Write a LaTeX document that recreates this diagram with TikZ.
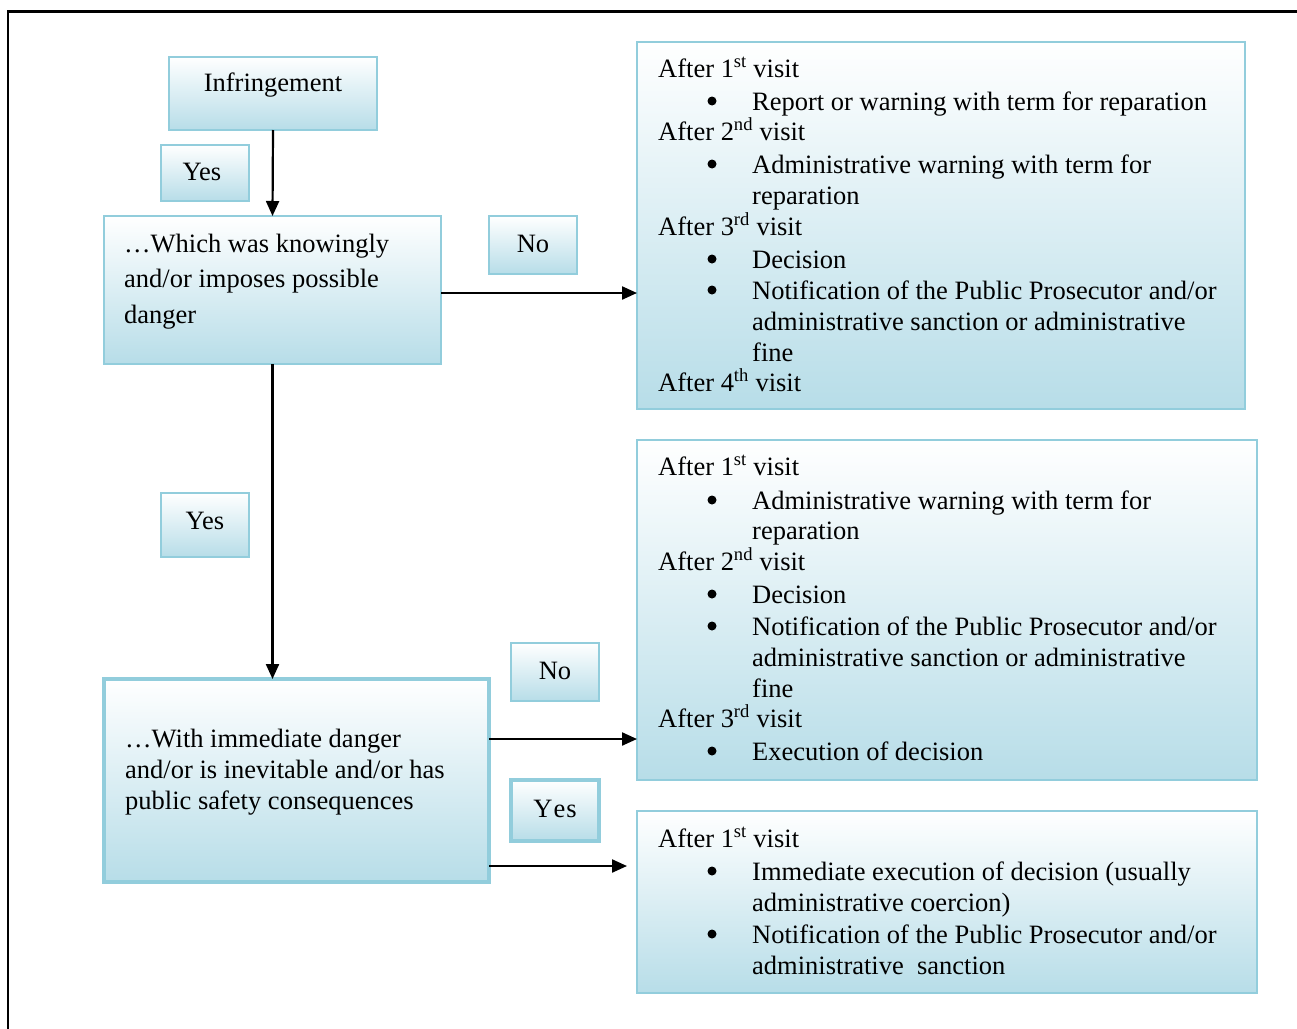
\documentclass[tikz,border=0pt]{standalone}
\usepackage{fontspec}
\setmainfont{Liberation Serif}
\usetikzlibrary{arrows.meta}
\definecolor{boxblue}{RGB}{183,221,232}
\definecolor{edgeblue}{RGB}{146,205,220}
\tikzset{
  box/.style={rectangle, draw=edgeblue, line width=1.8pt, shading=axis,
    top color=white, bottom color=boxblue, inner sep=0pt, outer sep=0pt,
    anchor=north west},
  thickbox/.style={box, line width=3.4pt},
  lbl/.style={font=\fontsize{26.5}{32}\selectfont, inner sep=0pt},
  txt/.style={lbl, anchor=base west},
  dot/.style={circle, fill=black, inner sep=0pt, minimum size=9pt},
  flow/.style={line width=2.2pt, -{Triangle[length=15pt,width=13pt]}},
  frame/.style={line width=2.4pt}
}
\newcommand\boxline[4]{\node[txt] (#1) at (#2,#3) {#4};}
\newcommand\bulletline[3]{\node[dot] (#1b) at (712,#2-9) {};\node[txt] (#1) at (752,#2) {#3};}
\begin{document}
\begin{tikzpicture}[x=1pt,y=-1pt]
\useasboundingbox (0,0) rectangle (1297,1028);
% outer frame (top and left edges)
\coordinate (ftl) at (8,11.5);
\coordinate (ftr) at (1300,11.5);
\coordinate (fbl) at (8,1030);
\draw[frame] (ftr) -- (ftl) -- (fbl);

% decision boxes
\node[box, minimum width=208pt, minimum height=73pt] (inf) at (169,57) {};
\node[lbl] (inft) at (273,85) {Infringement};
\node[box, minimum width=337pt, minimum height=148pt] (which) at (104,216) {};
\boxline{w1}{124}{252}{…Which was knowingly}
\boxline{w2}{124}{287}{and/or imposes possible}
\boxline{w3}{124}{323}{danger}
\node[thickbox, minimum width=385pt, minimum height=203pt] (imm) at (104,679) {};
\boxline{i1}{125}{747}{…With immediate danger}
\boxline{i2}{125}{778}{and/or is inevitable and/or has}
\boxline{i3}{125}{809}{public safety consequences}

% yes / no labels
\node[box, minimum width=88pt, minimum height=56pt] (yes1) at (161,145) {};
\node[lbl] (yes1t) at (202,172) {Yes};
\node[box, minimum width=88pt, minimum height=58pt] (no1) at (489,216) {};
\node[lbl] (no1t) at (533,244) {No};
\node[box, minimum width=88pt, minimum height=64pt] (yes2) at (161,493) {};
\node[lbl] (yes2t) at (205,521) {Yes};
\node[box, minimum width=88pt, minimum height=58pt] (no2) at (511,643) {};
\node[lbl] (no2t) at (555,671) {No};
\node[thickbox, minimum width=88pt, minimum height=61pt] (yes3) at (511,780) {};
\node[lbl] (yes3t) at (555,809) {Y\kern1pt e\kern1pt s};

% outcome box: not knowingly, no danger
\node[box, minimum width=608pt, minimum height=367pt] (out1) at (637,42) {};
\boxline{a1}{658}{77}{After 1\textsuperscript{st} visit}
\bulletline{a2}{110}{Report or warning with term for reparation}
\boxline{a3}{658}{140}{After 2\textsuperscript{nd} visit}
\bulletline{a4}{173}{Administrative warning with term for}
\boxline{a5}{752}{204}{reparation}
\boxline{a6}{658}{235}{After 3\textsuperscript{rd} visit}
\bulletline{a7}{268}{Decision}
\bulletline{a8}{299}{Notification of the Public Prosecutor and/or}
\boxline{a9}{752}{330}{administrative sanction or administrative}
\boxline{a10}{752}{361}{fine}
\boxline{a11}{658}{391}{After 4\textsuperscript{th} visit}

% outcome box: danger, not immediate
\node[box, minimum width=620pt, minimum height=340pt] (out2) at (637,440) {};
\boxline{b1}{658}{475}{After 1\textsuperscript{st} visit}
\bulletline{b2}{509}{Administrative warning with term for}
\boxline{b3}{752}{539}{reparation}
\boxline{b4}{658}{570}{After 2\textsuperscript{nd} visit}
\bulletline{b5}{603}{Decision}
\bulletline{b6}{635}{Notification of the Public Prosecutor and/or}
\boxline{b7}{752}{666}{administrative sanction or administrative}
\boxline{b8}{752}{697}{fine}
\boxline{b9}{658}{727}{After 3\textsuperscript{rd} visit}
\bulletline{b10}{760}{Execution of decision}

% outcome box: immediate danger
\node[box, minimum width=620pt, minimum height=182pt] (out3) at (637,811) {};
\boxline{c1}{658}{847}{After 1\textsuperscript{st} visit}
\bulletline{c2}{880}{Immediate execution of decision (usually}
\boxline{c3}{752}{911}{administrative coercion)}
\bulletline{c4}{943}{Notification of the Public Prosecutor and/or}
\boxline{c5}{752}{974}{administrative\ \ sanction}

% connectors
\coordinate (tip3) at (627,866);
\draw[flow] (inf.south) -- (which.north);
\draw[flow] ([yshift=-3pt]which.east) -- ([yshift=-3pt]which.east -| out1.west);
\draw[flow] (which.south) -- (imm.north -| which.south);
\draw[flow] ([yshift=-60pt]imm.north east) -- ([yshift=-60pt]imm.north east -| out2.west);
\draw[flow] (imm.east |- tip3) -- (tip3);
\end{tikzpicture}
\end{document}
